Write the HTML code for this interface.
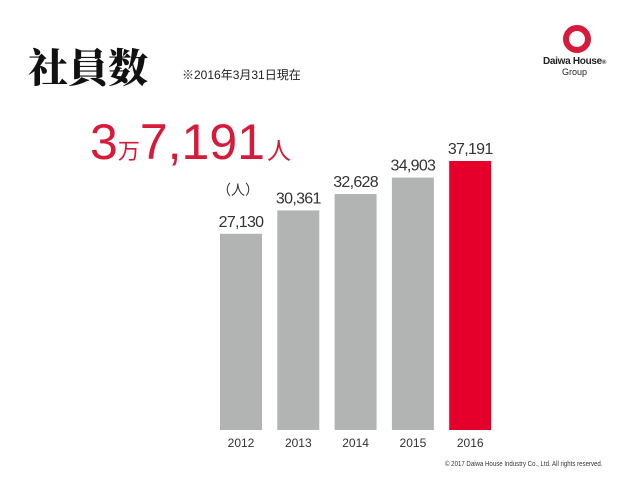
<!DOCTYPE html>
<html><head><meta charset="utf-8"><style>
body{margin:0;background:#fff;}
#wrap{position:relative;width:640px;height:480px;overflow:hidden;background:#fff;font-family:"Liberation Sans","Noto Sans CJK JP",sans-serif;}
.abs{position:absolute;white-space:nowrap;}
</style></head><body>
<div id="wrap">
<div class="abs" style="left:28px;top:42px;font-family:'Noto Serif CJK SC',serif;font-size:40px;font-weight:900;color:#111;line-height:48px;">社員数</div>
<div class="abs" style="left:182px;top:66px;font-size:12px;color:#222;">※2016年3月31日現在</div>
<div class="abs" style="left:90px;top:112px;color:#d7193a;line-height:60px;"><span style="font-size:50px;">3</span><span style="font-size:22px;">万</span><span style="font-size:50px;">7,191</span><span style="font-size:24px;margin-left:2px;">人</span></div>
<div class="abs" style="left:217px;top:180px;font-size:14px;color:#333;">（人）</div>
<svg class="abs" style="left:550px;top:20px" width="60" height="60">
<circle cx="27" cy="19" r="11" fill="none" stroke="#d7193a" stroke-width="6"/>
</svg>
<div class="abs" style="left:543px;top:56px;font-size:10px;font-weight:bold;color:#222;letter-spacing:-0.3px;">Daiwa House<span style="font-size:6px">®</span></div>
<div class="abs" style="left:562px;top:67px;font-size:9px;color:#222;">Group</div>
<svg id="chart" class="abs" style="left:0;top:0" width="640" height="480"></svg>
<div class="abs" style="left:445px;top:461px;font-size:7px;color:#333;transform:scale(0.87,1);transform-origin:0 0;">© 2017 Daiwa House Industry Co., Ltd. All rights reserved.</div>
</div>
<script>
const years=["2012","2013","2014","2015","2016"];
const values=[27130,30361,32628,34903,37191];
const labels=["27,130","30,361","32,628","34,903","37,191"];
const svg=document.getElementById('chart');
const NS='http://www.w3.org/2000/svg';
const base=430,maxH=269,maxV=37191;
function y(v){return base-v*maxH/maxV;}
function x(i){return 220+i*57.3;}
const bw=42;
years.forEach((yr,i)=>{
 const r=document.createElementNS(NS,'rect');
 r.setAttribute('x',x(i));r.setAttribute('y',y(values[i]));
 r.setAttribute('width',bw);r.setAttribute('height',base-y(values[i]));
 r.setAttribute('fill',i===years.length-1?'#e4002b':'#b2b4b4');
 
 
 svg.appendChild(r);
 const t=document.createElementNS(NS,'text');
 t.setAttribute('x',x(i)+bw/2);t.setAttribute('y',y(values[i])-7);
 t.setAttribute('text-anchor','middle');t.setAttribute('font-size','16');
 t.setAttribute('font-family','Liberation Sans, sans-serif');t.setAttribute('fill','#333');
 t.setAttribute('letter-spacing','-0.7');
 t.textContent=labels[i];
 
 
 svg.appendChild(t);
 const a=document.createElementNS(NS,'text');
 a.setAttribute('x',x(i)+bw/2);a.setAttribute('y',447);
 a.setAttribute('text-anchor','middle');a.setAttribute('font-size','12');
 a.setAttribute('font-family','Liberation Sans, sans-serif');a.setAttribute('fill','#333');
 a.textContent=yr;
 
 
 svg.appendChild(a);
});
</script>
</body></html>
